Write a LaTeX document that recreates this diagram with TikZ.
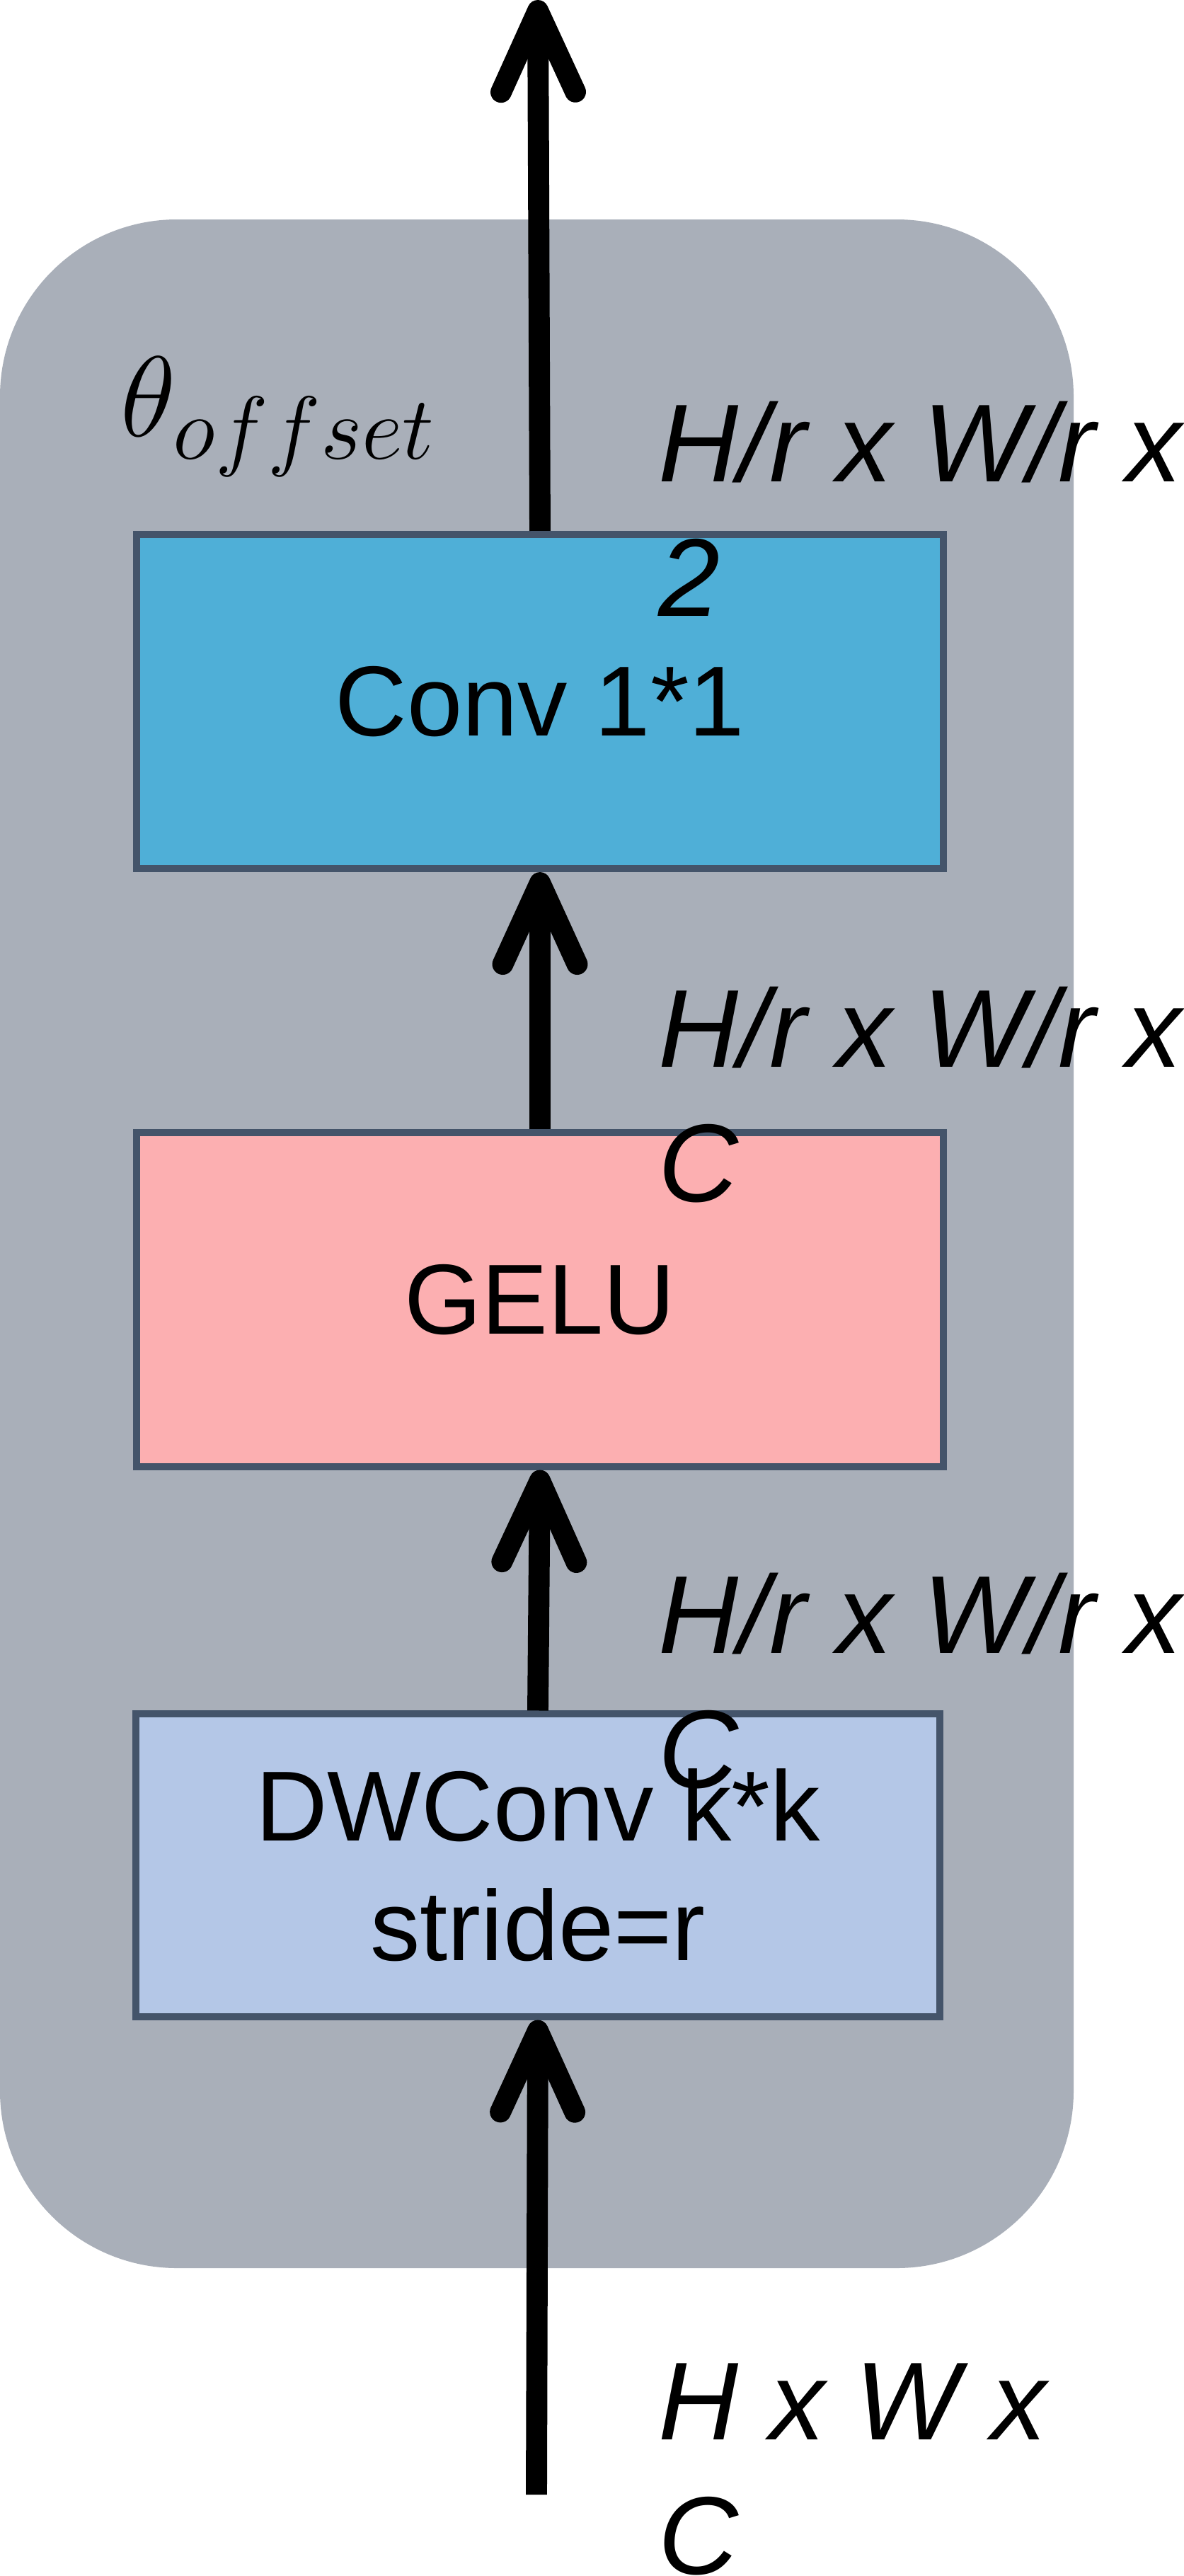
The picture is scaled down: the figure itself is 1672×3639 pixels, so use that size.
\RequirePackage{fix-cm}
\documentclass[tikz,border=0pt]{standalone}
\usepackage{fontspec}
\setmainfont{Liberation Sans}
\usetikzlibrary{arrows.meta}
\definecolor{panelgray}{HTML}{A9AFB9}
\definecolor{edgeblue}{HTML}{44546A}
\definecolor{convblue}{HTML}{4FAFD7}
\definecolor{gelupink}{HTML}{FCAFB1}
\definecolor{dwblue}{HTML}{B4C7E7}
\begin{document}
\begin{tikzpicture}[x=0.01cm, y=-0.01cm,
  blk/.style={draw=edgeblue, line width=2.8pt, minimum width=11.4cm, inner sep=0pt,
    align=center, font=\fontsize{40}{48}\selectfont},
  dimlbl/.style={anchor=base west, inner sep=0pt, align=left,
    font=\fontsize{44.5}{54}\selectfont\itshape},
  flow/.style={line width=8.5pt, -{Straight Barb[length=1.15cm, width=1.05cm, round]}}]
  \useasboundingbox (0,0) rectangle (1672,3639);
  % panel
  \fill[panelgray, rounded corners=2.5cm] (0,310) rectangle (1517,3204);
  \node[anchor=base west, inner sep=0pt, font=\fontsize{46}{52}\selectfont]
    (theta) at (170,616) {$\theta_{\hbox{\fontsize{36}{40}\selectfont$offset$}}$};
  % blocks
  \node[blk, fill=convblue, minimum height=4.72cm] (conv) at (763,991) {Conv 1*1};
  \node[blk, fill=gelupink, minimum height=4.71cm] (gelu) at (763,1836) {GELU};
  \node[blk, fill=dwblue, minimum width=11.35cm, minimum height=4.27cm] (dw) at (760,2635)
    {DWConv k*k\\stride=r};
  % flow
  \coordinate (inp) at (758,3524);
  \coordinate (outp) at (760,0);
  \draw[flow] (inp) -- (dw.south);
  \draw[flow] (dw.north) -- (gelu.south);
  \draw[flow] (gelu.north) -- (conv.south);
  \draw[flow] (conv.north) -- (outp);
  % sizes (base = last line)
  \node[dimlbl] (szout) at (930,870) {H/r x W/r x\\2};
  \node[dimlbl] (szgelu) at (930,1697) {H/r x W/r x\\C};
  \node[dimlbl] (szdw) at (930,2525) {H/r x W/r x\\C};
  \node[dimlbl] (szin) at (930,3636) {H x W x\\C};
\end{tikzpicture}
\end{document}
